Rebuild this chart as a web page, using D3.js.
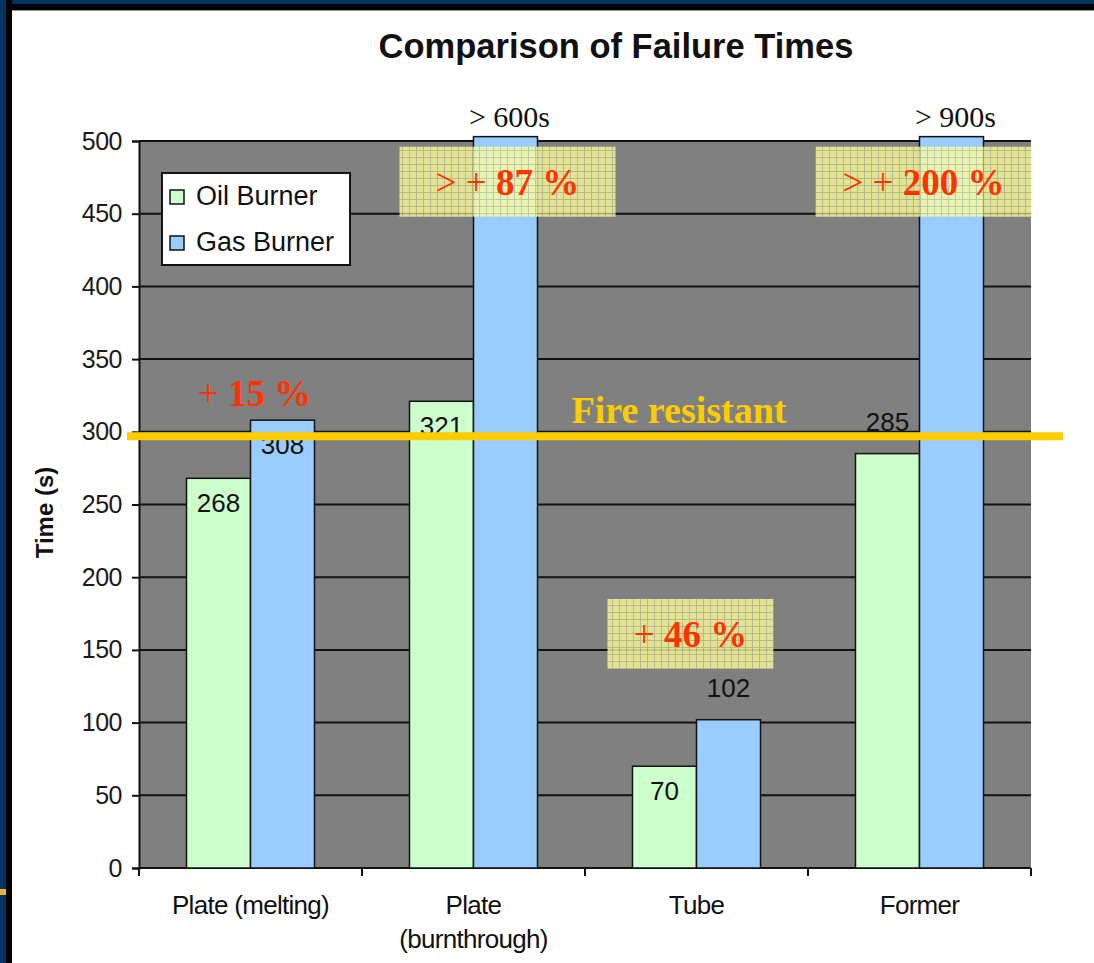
<!DOCTYPE html>
<html><head><meta charset="utf-8">
<script src="https://cdn.jsdelivr.net/npm/d3@7"></script>
<style>body{margin:0;background:#fff;overflow:hidden}</style>
</head><body><svg id="c" width="1094" height="963"></svg>
<script>
// ---------- data ----------
const categories = [["Plate (melting)"], ["Plate", "(burnthrough)"], ["Tube"], ["Former"]];
const seriesNames = ["Oil Burner", "Gas Burner"];
const oilValues = [268, 321, 70, 285];
const gasValues = [308, 600, 102, 900];
const oilLabels = ["268", "321", "70", "285"];
const gasLabels = ["308", "> 600s", "102", "> 900s"];
const oilLabelPlace = ["inside", "inside", "inside", "above"];
const gasLabelPlace = ["inside", "top", "above", "top"];
const yTicks = [0, 50, 100, 150, 200, 250, 300, 350, 400, 450, 500];
const fireResistantValue = 297;
const fireResistantText = "Fire resistant";
const annotationPrefix = ["+ ", "> + ", "+ ", "> + "];
const annotationMain = ["15 %", "87 %", "46 %", "200 %"];
const annotationCategory = [0, 1, 2, 3];
const annotationValue = [327, 472, 161, 472];
const annotationBoxed = [false, true, true, true];
const chartTitle = "Comparison of Failure Times";
const yAxisTitle = "Time (s)";

// ---------- layout ----------
const svg = d3.select("#c");
const plot = {left: 139, right: 1031, top: 141, bottom: 868};
const colors = {oil: "#CCFFCC", gas: "#99CCFF", plot: "#808080", navy: "#00335E",
  yellow: "#FFCC00", red: "#FF3300"};
const sans = "'Liberation Sans', Arial, sans-serif";
const serif = "'Liberation Serif', 'Times New Roman', serif";

const y = d3.scaleLinear().domain([0, 500]).range([plot.bottom, plot.top]);
const x = d3.scaleBand().domain(d3.range(categories.length)).range([plot.left, plot.right]).padding(0);
const xs = d3.scaleBand().domain([0, 1]).range([0, x.bandwidth()]).paddingInner(0).paddingOuter(0.742);
const yClip = 503; // bars that exceed the axis are drawn just past the top

// frame
svg.append("rect").attr("width", 1094).attr("height", 963).attr("fill", "#fff");
svg.append("rect").attr("x", 0).attr("y", 0).attr("width", 1094).attr("height", 10).attr("fill", "#000");
svg.append("rect").attr("x", 0).attr("y", 0).attr("width", 1094).attr("height", 4).attr("fill", colors.navy);
svg.append("rect").attr("x", 0).attr("y", 0).attr("width", 12).attr("height", 963).attr("fill", "#000");
svg.append("rect").attr("x", 0).attr("y", 0).attr("width", 6).attr("height", 963).attr("fill", colors.navy);
svg.append("line").attr("x1", 12).attr("x2", 1094).attr("y1", 10.5).attr("y2", 10.5).attr("stroke", "#999").attr("stroke-width", 1);
svg.append("rect").attr("x", 0).attr("y", 889).attr("width", 6).attr("height", 6).attr("fill", "#F5B335");

// pattern for annotation boxes
const defs = svg.append("defs");
const pat = defs.append("pattern").attr("id", "hatch").attr("patternUnits", "userSpaceOnUse")
  .attr("width", 7).attr("height", 7);
pat.append("rect").attr("width", 7).attr("height", 7).attr("fill", "#FFFF99");
pat.append("path").attr("d", "M0 3.5H7M3.5 0V7").attr("stroke", "#C8C890").attr("stroke-width", 1);

// title
svg.append("text").attr("x", 616).attr("y", 58).attr("text-anchor", "middle")
  .attr("font-family", sans).attr("font-weight", "bold").attr("font-size", 34.5).attr("fill", "#111")
  .text(chartTitle);

// plot background
svg.append("rect").attr("x", plot.left).attr("y", plot.top)
  .attr("width", plot.right - plot.left).attr("height", plot.bottom - plot.top).attr("fill", colors.plot);

// gridlines
svg.append("g").selectAll("line").data(yTicks.filter(d => d > 0)).join("line")
  .attr("x1", plot.left).attr("x2", plot.right).attr("y1", d => y(d)).attr("y2", d => y(d))
  .attr("stroke", "#111").attr("stroke-width", 2);

// y axis
const yAxis = svg.append("g").attr("transform", `translate(${plot.left},0)`)
  .call(d3.axisLeft(y).tickValues(yTicks).tickSize(7).tickPadding(10).tickFormat(d3.format("d")));
yAxis.select(".domain").attr("stroke", "#111").attr("stroke-width", 2);
yAxis.selectAll(".tick line").attr("stroke", "#111").attr("stroke-width", 2);
yAxis.selectAll(".tick text").attr("font-family", sans).attr("font-size", 25).attr("fill", "#1a1a1a")
  .attr("letter-spacing", -0.5);

// y axis title
svg.append("text").attr("transform", `translate(53,${(plot.top + plot.bottom) / 2 + 8}) rotate(-90)`)
  .attr("text-anchor", "middle").attr("font-family", sans).attr("font-weight", "bold")
  .attr("font-size", 24).attr("fill", "#111").text(yAxisTitle);

// x axis
const boundaries = d3.range(categories.length + 1).map(i => i < categories.length ? x(i) : plot.right);
svg.append("line").attr("x1", plot.left).attr("x2", plot.right).attr("y1", plot.bottom).attr("y2", plot.bottom)
  .attr("stroke", "#111").attr("stroke-width", 2);
svg.append("g").selectAll("line").data(boundaries).join("line")
  .attr("x1", d => d).attr("x2", d => d).attr("y1", plot.bottom).attr("y2", plot.bottom + 8)
  .attr("stroke", "#111").attr("stroke-width", 2);
const catLabels = svg.append("g").selectAll("text").data(categories).join("text")
  .attr("x", (d, i) => x(i) + x.bandwidth() / 2).attr("y", 914).attr("text-anchor", "middle")
  .attr("font-family", sans).attr("font-size", 26).attr("fill", "#111").attr("letter-spacing", -0.7);
catLabels.selectAll("tspan").data(d => d).join("tspan")
  .attr("x", function () { return this.parentNode.getAttribute("x"); })
  .attr("dy", (d, i) => i === 0 ? 0 : 34).text(d => d);

// bars
const series = [
  {values: oilValues, labels: oilLabels, place: oilLabelPlace, color: colors.oil, idx: 0},
  {values: gasValues, labels: gasLabels, place: gasLabelPlace, color: colors.gas, idx: 1}
];
const barG = svg.append("g");
series.forEach(s => {
  barG.selectAll(null).data(s.values).join("rect")
    .attr("x", (d, i) => x(i) + xs(s.idx)).attr("width", xs.bandwidth())
    .attr("y", d => y(Math.min(d, yClip))).attr("height", d => plot.bottom - y(Math.min(d, yClip)))
    .attr("fill", s.color).attr("stroke", "#111").attr("stroke-width", 1.5);
});

// value labels
series.forEach(s => {
  barG.selectAll(null).data(s.values).join("text")
    .attr("x", (d, i) => x(i) + xs(s.idx) + xs.bandwidth() / 2 + (s.place[i] === "top" ? 4 : 0))
    .attr("y", (d, i) => s.place[i] === "inside" ? y(d) + 34 : s.place[i] === "above" ? y(d) - 23 : 127)
    .attr("text-anchor", "middle")
    .attr("font-family", (d, i) => s.place[i] === "top" ? serif : sans)
    .attr("font-size", (d, i) => s.place[i] === "top" ? 30 : 26)
    .attr("fill", "#111")
    .text((d, i) => s.labels[i]);
});

// legend
const lg = svg.append("g").attr("transform", "translate(162,173)");
lg.append("rect").attr("width", 188).attr("height", 92).attr("fill", "#fff").attr("stroke", "#111").attr("stroke-width", 2);
seriesNames.forEach((n, i) => {
  lg.append("rect").attr("x", 8).attr("y", 17 + i * 46).attr("width", 14).attr("height", 14)
    .attr("fill", i === 0 ? colors.oil : colors.gas).attr("stroke", "#111").attr("stroke-width", 1.5);
  lg.append("text").attr("x", 34).attr("y", 32 + i * 46).attr("font-family", sans).attr("font-size", 27)
    .attr("fill", "#111").text(n);
});

// annotation boxes
const annG = svg.append("g");
const boxW = [0, 216, 166, 216];
annotationMain.forEach((m, i) => {
  const cx = i === 1 ? x(1) + xs(1) + xs.bandwidth() / 2 + 2 : x(annotationCategory[i]) + x.bandwidth() / 2 + (i === 0 ? 4 : i === 2 ? -6 : 4);
  const cy = y(annotationValue[i]);
  if (annotationBoxed[i]) {
    annG.append("rect").attr("x", cx - boxW[i] / 2).attr("y", cy - 35).attr("width", boxW[i]).attr("height", 70)
      .attr("fill", "url(#hatch)").attr("opacity", 0.78);
  }
  const t = annG.append("text").attr("x", cx).attr("y", cy + 13).attr("text-anchor", "middle")
    .attr("font-family", serif).attr("font-size", 37).attr("fill", colors.red);
  t.append("tspan").text(annotationPrefix[i]);
  t.append("tspan").attr("font-weight", "bold").text(m);
});

// fire resistant line
svg.append("line").attr("x1", 127).attr("x2", 1063)
  .attr("y1", y(fireResistantValue)).attr("y2", y(fireResistantValue))
  .attr("stroke", colors.yellow).attr("stroke-width", 8);
svg.append("text").attr("x", 679).attr("y", y(fireResistantValue) - 13).attr("text-anchor", "middle")
  .attr("font-family", serif).attr("font-weight", "bold").attr("font-size", 38).attr("fill", colors.yellow)
  .text(fireResistantText);
</script></body></html>
